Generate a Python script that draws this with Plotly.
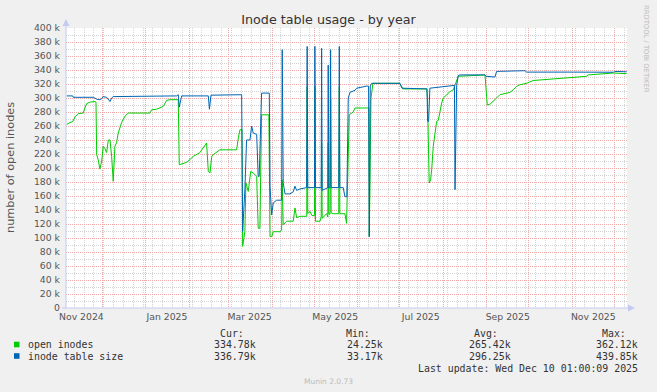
import plotly.graph_objects as go
import pandas as pd

# ---------------- data ----------------
title_text = "Inode table usage - by year"
y_title_text = "number of open inodes"
series_names = ["open inodes", "inode table size"]
series_colors = ["#00CC00", "#0066B3"]

open_dates = [
    "2024-11-05 12:00", "2024-11-07 20:00", "2024-11-09 18:00", "2024-11-11 10:00", "2024-11-13 19:00",
    "2024-11-16 05:00", "2024-11-17 07:00", "2024-11-18 12:00", "2024-11-19 19:00", "2024-11-22 02:00",
    "2024-11-25 17:00", "2024-11-26 10:00", "2024-11-26 22:00", "2024-11-28 00:00", "2024-11-29 05:00",
    "2024-11-30 12:00", "2024-12-01 14:00", "2024-12-02 19:00", "2024-12-04 00:00", "2024-12-05 05:00",
    "2024-12-06 10:00", "2024-12-07 14:00", "2024-12-08 17:00", "2024-12-09 22:00", "2024-12-11 02:00",
    "2024-12-12 07:00", "2024-12-13 12:00", "2024-12-14 17:00", "2024-12-17 02:00", "2024-12-19 10:00",
    "2025-01-03 22:00", "2025-01-05 02:00", "2025-01-08 17:00", "2025-01-11 00:00", "2025-01-13 10:00",
    "2025-01-15 19:00", "2025-01-18 05:00", "2025-01-24 02:00", "2025-01-24 19:00", "2025-01-30 02:00",
    "2025-02-03 19:00", "2025-02-08 12:00", "2025-02-13 07:00", "2025-02-14 12:00", "2025-02-15 17:00",
    "2025-02-16 22:00", "2025-02-18 00:00", "2025-02-22 19:00", "2025-03-06 17:00", "2025-03-07 22:00",
    "2025-03-09 02:00", "2025-03-10 12:00", "2025-03-11 00:00", "2025-03-12 14:00", "2025-03-13 07:00",
    "2025-03-15 00:00", "2025-03-16 17:00", "2025-03-18 12:00", "2025-03-19 19:00", "2025-03-21 00:00",
    "2025-03-22 02:00", "2025-03-23 07:00", "2025-03-24 12:00", "2025-03-29 17:00", "2025-03-30 12:00",
    "2025-03-31 17:00", "2025-04-01 19:00", "2025-04-06 14:00", "2025-04-07 19:00", "2025-04-08 05:00",
    "2025-04-08 22:00", "2025-04-11 10:00", "2025-04-16 02:00", "2025-04-17 07:00", "2025-04-18 12:00",
    "2025-04-20 19:00", "2025-04-25 17:00", "2025-04-26 00:00", "2025-04-26 10:00", "2025-04-28 00:00",
    "2025-04-29 10:00", "2025-05-01 05:00", "2025-05-01 12:00", "2025-05-01 22:00", "2025-05-05 02:00",
    "2025-05-06 00:00", "2025-05-06 07:00", "2025-05-06 17:00", "2025-05-09 22:00", "2025-05-10 17:00",
    "2025-05-11 00:00", "2025-05-11 10:00", "2025-05-12 07:00", "2025-05-12 17:00", "2025-05-13 02:00",
    "2025-05-14 14:00", "2025-05-18 12:00", "2025-05-18 22:00", "2025-05-19 07:00", "2025-05-22 22:00",
    "2025-05-24 02:00", "2025-05-25 07:00", "2025-05-26 00:00", "2025-05-28 19:00", "2025-05-30 02:00",
    "2025-06-07 10:00", "2025-06-09 00:00", "2025-06-09 07:00", "2025-06-10 12:00", "2025-06-11 22:00",
    "2025-07-01 02:00", "2025-07-03 07:00", "2025-07-20 05:00", "2025-07-20 19:00", "2025-07-21 07:00",
    "2025-07-22 00:00", "2025-07-23 00:00", "2025-07-23 19:00", "2025-07-24 22:00", "2025-07-26 02:00",
    "2025-07-27 07:00", "2025-07-28 12:00", "2025-07-29 17:00", "2025-07-30 22:00", "2025-08-01 02:00",
    "2025-08-03 10:00", "2025-08-05 19:00", "2025-08-08 05:00", "2025-08-09 10:00", "2025-08-11 17:00",
    "2025-08-30 19:00", "2025-08-31 12:00", "2025-09-01 10:00", "2025-09-03 07:00", "2025-09-05 17:00",
    "2025-09-08 02:00", "2025-09-10 10:00", "2025-09-15 05:00", "2025-09-17 14:00", "2025-09-19 22:00",
    "2025-09-22 10:00", "2025-09-24 17:00", "2025-09-29 12:00", "2025-10-04 05:00", "2025-10-11 07:00",
    "2025-10-16 02:00", "2025-10-28 00:00", "2025-11-04 05:00", "2025-11-11 07:00", "2025-11-12 12:00",
    "2025-11-20 19:00", "2025-11-30 07:00", "2025-12-09 19:00",
]
open_values_k = [
    262, 265, 266, 273, 277.6,
    278.5, 278.5, 285.7, 292, 294,
    295, 294, 219, 212, 198.5,
    210, 231, 228, 222, 240,
    240, 216.5, 181, 231, 236,
    250, 259, 265, 274, 278.5,
    278.5, 283, 284, 285.7, 288,
    296.6, 297.6, 297.6, 204.7, 208,
    216.6, 222, 235.7, 195, 193,
    216, 219, 226, 226, 243,
    254.7, 254.7, 88, 109, 178.6,
    166.6, 195, 193, 190, 188,
    114, 114, 276, 276, 102,
    102, 109, 109, 111, 183,
    119, 124, 124, 143, 129,
    131, 131, 316, 135, 138,
    132, 132, 316, 124, 124,
    130, 236, 128, 135, 130,
    236, 134, 134, 300, 136,
    134.7, 134.7, 316, 134.7, 134.7,
    121, 240, 276, 280, 285.7,
    285.7, 286, 102, 300, 321,
    321, 313, 313, 300, 222,
    178.6, 183, 197.6, 231, 250,
    266.6, 268, 283, 293, 300,
    304.7, 309, 311.7, 319, 331,
    333, 316.6, 290, 291, 295,
    300, 304.7, 307, 308, 311.7,
    316.6, 319, 321, 325, 326,
    327.6, 328.6, 330, 331, 333,
    334.7, 335.7, 334.78,
]

size_dates = [
    "2024-11-05 12:00", "2024-11-09 19:00", "2024-11-10 06:00", "2024-11-24 12:00", "2024-11-26 10:00",
    "2024-11-27 07:00", "2024-11-29 05:00", "2024-11-30 12:00", "2024-12-01 14:00", "2024-12-04 00:00",
    "2024-12-06 10:00", "2024-12-07 14:00", "2024-12-08 17:00", "2025-01-03 22:00", "2025-01-08 17:00",
    "2025-01-23 00:00", "2025-01-24 02:00", "2025-01-24 19:00", "2025-01-26 12:00", "2025-02-14 12:00",
    "2025-02-15 07:00", "2025-02-16 10:00", "2025-03-10 07:00", "2025-03-11 00:00", "2025-03-12 14:00",
    "2025-03-13 19:00", "2025-03-16 05:00", "2025-03-17 10:00", "2025-03-18 12:00", "2025-03-21 00:00",
    "2025-03-22 02:00", "2025-03-22 19:00", "2025-03-24 12:00", "2025-03-30 00:00", "2025-03-30 12:00",
    "2025-03-31 17:00", "2025-04-01 19:00", "2025-04-04 05:00", "2025-04-07 19:00", "2025-04-08 05:00",
    "2025-04-08 22:00", "2025-04-10 05:00", "2025-04-13 17:00", "2025-04-16 02:00", "2025-04-17 07:00",
    "2025-04-18 12:00", "2025-04-20 19:00", "2025-04-25 14:00", "2025-04-26 00:00", "2025-04-26 10:00",
    "2025-05-01 05:00", "2025-05-01 12:00", "2025-05-01 22:00", "2025-05-06 00:00", "2025-05-06 07:00",
    "2025-05-06 17:00", "2025-05-10 17:00", "2025-05-11 00:00", "2025-05-11 10:00", "2025-05-12 07:00",
    "2025-05-12 17:00", "2025-05-13 02:00", "2025-05-18 12:00", "2025-05-18 22:00", "2025-05-19 07:00",
    "2025-05-21 17:00", "2025-05-22 22:00", "2025-05-24 07:00", "2025-05-25 07:00", "2025-05-26 12:00",
    "2025-05-30 02:00", "2025-05-31 07:00", "2025-06-07 10:00", "2025-06-08 19:00", "2025-06-09 07:00",
    "2025-06-10 00:00", "2025-06-11 00:00", "2025-07-01 02:00", "2025-07-02 14:00", "2025-07-20 10:00",
    "2025-07-20 22:00", "2025-07-21 14:00", "2025-07-22 12:00", "2025-08-01 02:00", "2025-08-09 00:00",
    "2025-08-09 10:00", "2025-08-10 14:00", "2025-08-11 17:00", "2025-08-12 22:00", "2025-08-30 19:00",
    "2025-08-31 12:00", "2025-09-06 22:00", "2025-09-08 02:00", "2025-09-28 07:00", "2025-09-29 12:00",
    "2025-11-01 17:00", "2025-11-30 07:00", "2025-12-01 02:00", "2025-12-09 19:00",
]
size_values_k = [
    303, 303, 301, 301, 299,
    298, 297.6, 299, 302, 301,
    295, 300, 302, 302, 303,
    303, 304.7, 287, 303, 303,
    284, 304, 304.7, 109.4, 169,
    240, 240, 260, 250, 248,
    188, 188, 307, 307, 174,
    133, 150, 154, 154, 369,
    178.5, 163, 163, 166, 174,
    168, 170, 172, 373.7, 172,
    172, 373.7, 172, 172, 371,
    168, 172, 347, 172, 172,
    369, 172, 172, 373.7, 172,
    172, 159, 159, 300, 308,
    311, 314, 317, 317, 102,
    317, 321, 321, 314, 313,
    266.6, 266.6, 314, 316, 318,
    169, 318, 332, 333, 333,
    331, 330, 338, 339, 337,
    337, 336.8, 338, 337.5,
]

x_range = ["2024-11-05 01:00", "2025-12-10 01:00"]
month_grid_dates = ["2024-12-01", "2025-01-01", "2025-02-01", "2025-03-01", "2025-04-01", "2025-05-01",
                    "2025-06-01", "2025-07-01", "2025-08-01", "2025-09-01", "2025-10-01", "2025-11-01",
                    "2025-12-01"]
x_label_dates = ["2024-11-16", "2025-01-16", "2025-03-16", "2025-05-16", "2025-07-16", "2025-09-16", "2025-11-16"]
x_label_text = ["Nov 2024", "Jan 2025", "Mar 2025", "May 2025", "Jul 2025", "Sep 2025", "Nov 2025"]

y_tick_values_k = [0, 20, 40, 60, 80, 100, 120, 140, 160, 180, 200, 220, 240, 260, 280, 300, 320, 340, 360, 380, 400]
y_tick_text = ["0", "20 k", "40 k", "60 k", "80 k", "100 k", "120 k", "140 k", "160 k", "180 k", "200 k",
               "220 k", "240 k", "260 k", "280 k", "300 k", "320 k", "340 k", "360 k", "380 k", "400 k"]

stat_headers = ["Cur:", "Min:", "Avg:", "Max:"]
open_stats = ["334.78k", "24.25k", "265.42k", "362.12k"]
size_stats = ["336.79k", "33.17k", "296.25k", "439.85k"]
last_update_text = "Last update: Wed Dec 10 01:00:09 2025"
footer_text = "Munin 2.0.73"
watermark_text = "RRDTOOL / TOBI OETIKER"

# ---------------- layout helpers ----------------
W, H = 657, 392
PL, PR, PT, PB = 66, 627, 28, 308
def px(x):
    return (x - PL) / (PR - PL)
def py(y):
    return (PB - y) / (PB - PT)

AXIS_COL = "#C4CAF0"
MGRID = "#EFA8A8"
GRID = "#D4D4D4"
TXT = "#555555"
MONO = "DejaVu Sans Mono"
SANS = "DejaVu Sans"

fig = go.Figure()
fig.add_trace(go.Scatter(x=pd.to_datetime(open_dates), y=[v * 1000 for v in open_values_k],
                         mode="lines", line=dict(color=series_colors[0], width=1), name=series_names[0]))
fig.add_trace(go.Scatter(x=pd.to_datetime(size_dates), y=[v * 1000 for v in size_values_k],
                         mode="lines", line=dict(color=series_colors[1], width=1), name=series_names[1]))
# empty helper trace so that the label axis (x2) gets drawn
fig.add_trace(go.Scatter(x=pd.to_datetime(x_range), y=[None, None], xaxis="x2", yaxis="y",
                         mode="lines", showlegend=False, hoverinfo="skip"))

fig.update_layout(
    width=W, height=H,
    margin=dict(l=PL, r=W - PR, t=PT, b=H - PB, pad=0, autoexpand=False),
    paper_bgcolor="#F0F0F0", plot_bgcolor="#FFFFFF",
    showlegend=False,
    title=dict(text=title_text, x=0.5, xref="container", xanchor="center",
               y=1 - 19.5 / H, yref="container", yanchor="middle",
               font=dict(family=SANS, size=12.7, color="#333333")),
    xaxis=dict(type="date", range=x_range, tickvals=month_grid_dates,
               ticktext=[""] * len(month_grid_dates), showgrid=True, gridcolor=MGRID,
               griddash="1px,1px", gridwidth=1, zeroline=False, showline=False, ticks="",
               automargin=False,
               minor=dict(dtick=7 * 86400000, tick0="2024-11-04", showgrid=True,
                          gridcolor=GRID, griddash="1px,1px", gridwidth=1, ticks="")),
    xaxis2=dict(type="date", range=x_range, overlaying="x", anchor="y", side="bottom",
                tickvals=x_label_dates, ticktext=x_label_text, showgrid=False, zeroline=False,
                showline=False, ticks="", ticklabelstandoff=2, automargin=False,
                tickfont=dict(family=SANS, size=9.3, color=TXT)),
    yaxis=dict(range=[0, 400000], tickvals=[v * 1000 for v in y_tick_values_k], ticktext=y_tick_text,
               showgrid=True, gridcolor=MGRID, griddash="1px,1px", gridwidth=1,
               zeroline=False, showline=False, ticks="", ticklabelstandoff=5, automargin=False,
               tickfont=dict(family=SANS, size=9.3, color=TXT),
               minor=dict(dtick=10000, showgrid=True, gridcolor=GRID, griddash="1px,1px",
                          gridwidth=1, ticks="")),
)

shapes = []
# axis lines with arrows (rrdtool style)
shapes.append(dict(type="line", xref="paper", yref="paper", x0=px(66), x1=px(66), y0=py(308), y1=py(25),
                   line=dict(color=AXIS_COL, width=1)))
shapes.append(dict(type="path", xref="paper", yref="paper",
                   path=f"M {px(66)},{py(19)} L {px(62.5)},{py(26)} L {px(69.5)},{py(26)} Z",
                   fillcolor=AXIS_COL, line=dict(width=0)))
shapes.append(dict(type="line", xref="paper", yref="paper", x0=px(62), x1=px(629), y0=py(308), y1=py(308),
                   line=dict(color=AXIS_COL, width=1)))
shapes.append(dict(type="path", xref="paper", yref="paper",
                   path=f"M {px(635)},{py(308)} L {px(628)},{py(304.5)} L {px(628)},{py(311.5)} Z",
                   fillcolor=AXIS_COL, line=dict(width=0)))
# legend colour boxes
for i, yc in enumerate([344.5, 356]):
    shapes.append(dict(type="rect", xref="paper", yref="paper", x0=px(14), x1=px(19.5),
                       y0=py(yc + 2.8), y1=py(yc - 2.8), fillcolor=series_colors[i], line=dict(width=0)))
fig.update_layout(shapes=shapes)

ann = []
ann.append(dict(text=y_title_text, xref="paper", yref="paper", x=px(10), y=0.5, textangle=-90,
                showarrow=False, xanchor="center", yanchor="middle",
                font=dict(family=SANS, size=11.3, color=TXT)))
ann.append(dict(text=watermark_text, xref="paper", yref="paper", x=px(646), y=py(49), textangle=90,
                showarrow=False, xanchor="center", yanchor="middle",
                font=dict(family=SANS, size=6.8, color="#BBBBBB")))
value_right = [257, 383.5, 511.5, 639]
leg_font = dict(family=MONO, size=9.9, color="#333333")
for hdr, xr in zip(stat_headers, value_right):
    ann.append(dict(text=hdr, xref="paper", yref="paper", x=px(xr - 12.5), y=py(333),
                    showarrow=False, xanchor="right", yanchor="middle", font=leg_font))
for row_y, name, stats in [(344.5, series_names[0], open_stats), (356, series_names[1], size_stats)]:
    ann.append(dict(text=name, xref="paper", yref="paper", x=px(26.5), y=py(row_y),
                    showarrow=False, xanchor="left", yanchor="middle", font=leg_font))
    for s, xr in zip(stats, value_right):
        ann.append(dict(text=s, xref="paper", yref="paper", x=px(xr), y=py(row_y),
                        showarrow=False, xanchor="right", yanchor="middle", font=leg_font))
ann.append(dict(text=last_update_text, xref="paper", yref="paper", x=px(639), y=py(368),
                showarrow=False, xanchor="right", yanchor="middle", font=leg_font))
ann.append(dict(text=footer_text, xref="paper", yref="paper", x=px(328), y=py(381),
                showarrow=False, xanchor="center", yanchor="middle",
                font=dict(family=SANS, size=7.5, color="#BBBBBB")))
fig.update_layout(annotations=[dict(a, borderpad=0) for a in ann])

fig.write_html("out.html", config={"displayModeBar": False})
# remove the browser's default page margin so the figure sits at the window's top-left corner
with open("out.html", "r", encoding="utf-8") as f:
    html = f.read()
html = html.replace("<head>", "<head><style>html,body{margin:0;padding:0;overflow:hidden;}</style>", 1)
with open("out.html", "w", encoding="utf-8") as f:
    f.write(html)
